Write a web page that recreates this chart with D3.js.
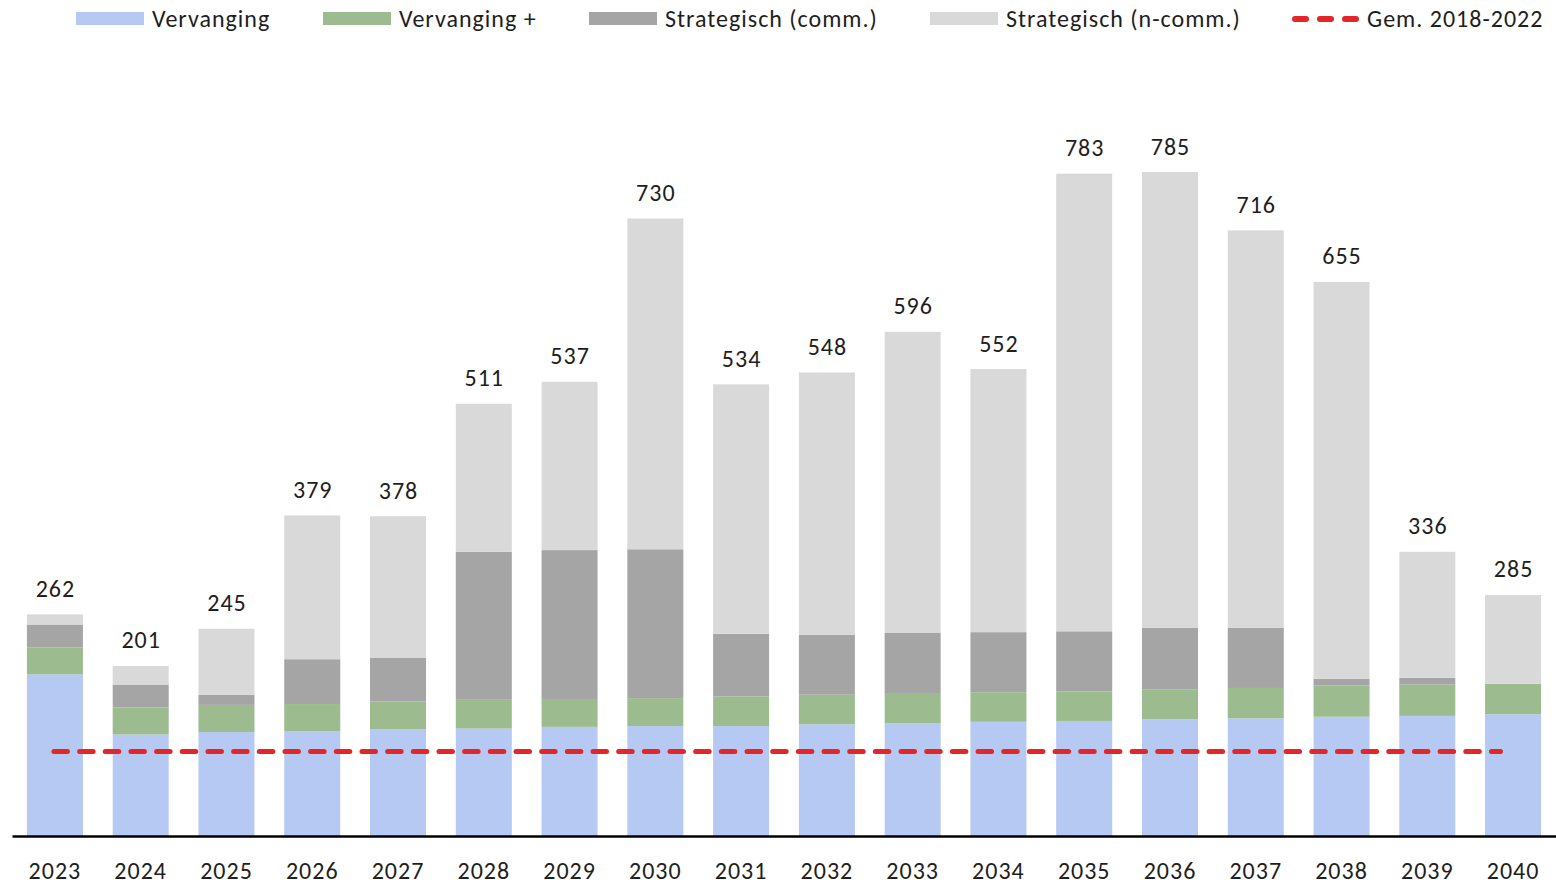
<!DOCTYPE html>
<html>
<head>
<meta charset="utf-8">
<script src="https://cdn.jsdelivr.net/npm/d3@7"></script>
<style>
  body { margin: 0; background: #fff; }
  text { font-family: Carlito, Calibri, Lato, sans-serif; fill: #1e1e1e; letter-spacing: 1px; }
</style>
</head>
<body>
<div id="chart"></div>
<script>
// Data
const years = ["2023", "2024", "2025", "2026", "2027", "2028", "2029", "2030", "2031",
    "2032", "2033", "2034", "2035", "2036", "2037", "2038", "2039", "2040"];
const vervanging = [191, 120, 123, 124, 126, 127, 129, 130, 130, 132, 133, 135, 136, 138, 139, 141, 142, 144];
const vervangingPlus = [32, 32, 32, 32, 33, 34, 33, 33, 35, 35, 35, 35, 35, 35, 36, 37, 37, 36];
const strategischComm = [27, 27, 12, 53, 52, 175, 176, 176, 74, 71, 72, 71, 71, 73, 71, 8, 8, 0];
const strategischNComm = [12, 22, 78, 170, 167, 175, 199, 391, 295, 310, 356, 311, 541, 539, 470, 469, 149, 105];
const gemiddelde = 100; // Gem. 2018-2022

const seriesNames = ["Vervanging", "Vervanging +", "Strategisch (comm.)", "Strategisch (n-comm.)"];
const colors = ["#b6c9f3", "#9cbb8e", "#a5a5a5", "#d9d9d9"];

const width = 1556, height = 885;
const fontSize = "24px";

const svg = d3.select("#chart")
    .append("svg")
    .attr("width", width)
    .attr("height", height);

// Tabel voor de stack
const table = years.map((y, i) => ({
    year: y,
    "Vervanging": vervanging[i],
    "Vervanging +": vervangingPlus[i],
    "Strategisch (comm.)": strategischComm[i],
    "Strategisch (n-comm.)": strategischNComm[i]
}));
const stacked = d3.stack().keys(seriesNames)(table);

// Schalen
const x = d3.scaleBand()
    .domain(years)
    .range([12, 1556])
    .paddingInner(0.347)
    .paddingOuter(0.174);

const y = d3.scaleLinear()
    .domain([0, 785])
    .range([836, 172]);

// Balken
svg.append("g")
    .selectAll("g")
    .data(stacked)
    .join("g")
    .attr("fill", (d, i) => colors[i])
    .selectAll("rect")
    .data(d => d)
    .join("rect")
    .attr("x", d => x(d.data.year))
    .attr("y", d => y(d[1]))
    .attr("width", x.bandwidth())
    .attr("height", d => y(d[0]) - y(d[1]));

// Totalen boven de balken
const totals = table.map(d => ({ year: d.year, total: d3.sum(seriesNames, k => d[k]) }));
svg.append("g")
    .selectAll("text")
    .data(totals)
    .join("text")
    .attr("x", d => x(d.year) + x.bandwidth() / 2 + 0.5)
    .attr("y", d => y(d.total) - 17.5)
    .attr("text-anchor", "middle")
    .style("font-size", fontSize)
    .text(d => d.total);

// Gemiddelde lijn
svg.append("line")
    .attr("x1", x(years[0]) + x.bandwidth() / 2 - 1)
    .attr("x2", 1500.5)
    .attr("y1", y(gemiddelde))
    .attr("y2", y(gemiddelde))
    .attr("stroke", "#e3262a")
    .attr("stroke-width", 5)
    .attr("stroke-linecap", "round")
    .attr("stroke-dasharray", "13.5 12.17");

// X-as
const xAxis = svg.append("g")
    .attr("transform", "translate(0,836)")
    .call(d3.axisBottom(x).tickSize(0).tickPadding(26));
xAxis.select(".domain").attr("stroke", "#000").attr("stroke-width", 2.5);
xAxis.selectAll("text")
    .style("font-size", fontSize)
    .style("font-family", "Carlito, Calibri, Lato, sans-serif")
    .attr("fill", "#1e1e1e");

// Legenda
const legendX = [76, 323, 589, 930];
seriesNames.forEach((name, i) => {
    svg.append("rect")
        .attr("x", legendX[i])
        .attr("y", 12)
        .attr("width", 68)
        .attr("height", 13)
        .style("fill", colors[i]);
    svg.append("text")
        .attr("x", legendX[i] + 76)
        .attr("y", 27)
        .text(name)
        .style("font-size", fontSize);
});
svg.append("line")
    .attr("x1", 1295).attr("x2", 1357)
    .attr("y1", 19).attr("y2", 19)
    .attr("stroke", "#e3262a")
    .attr("stroke-width", 6)
    .attr("stroke-linecap", "round")
    .attr("stroke-dasharray", "11 14");
svg.append("text")
    .attr("x", 1367)
    .attr("y", 27)
    .text("Gem. 2018-2022")
    .style("font-size", fontSize);
</script>
</body>
</html>
